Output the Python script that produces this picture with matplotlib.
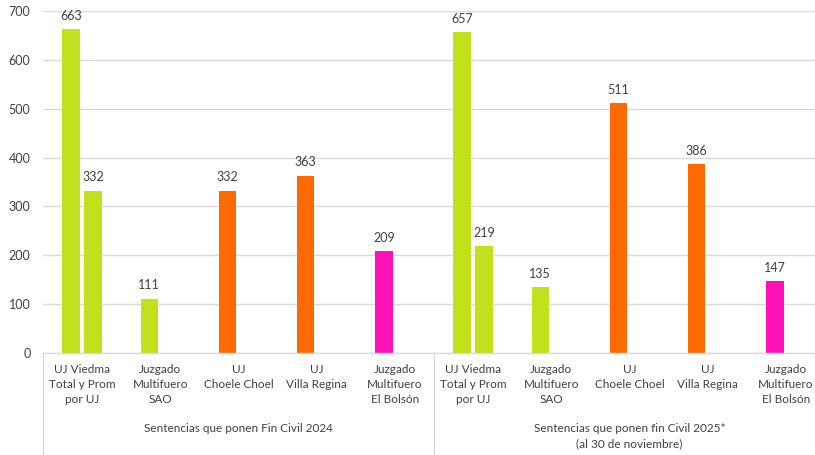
import matplotlib.pyplot as plt
import numpy as np

# data
categories = ['UJ Viedma\nTotal y Prom\npor UJ', 'Juzgado\nMultifuero\nSAO', 'UJ\nChoele Choel',
              'UJ\nVilla Regina', 'Juzgado\nMultifuero\nEl Bolsón']
groups = ['Sentencias que ponen Fin Civil 2024',
          'Sentencias que ponen fin Civil 2025*\n(al 30 de noviembre)']
totals_2024 = [663, 111, 332, 363, 209]
totals_2025 = [657, 135, 511, 386, 147]
prom_2024 = [332]
prom_2025 = [219]

green = '#C2E01B'
orange = '#FF6A00'
magenta = '#FF11B8'
bar_colors = [green, green, orange, orange, magenta]
text_color = '#404040'
grid_color = '#D9D9D9'


def main():
    plt.rcParams['font.family'] = ['Lato', 'DejaVu Sans']
    fig = plt.figure(figsize=(8.15, 4.55), dpi=100)
    # axes extends past the right edge, like the cropped original
    ax = fig.add_axes([43 / 815, 102 / 455, 782 / 815, 342 / 455])

    n = len(categories)
    totals = totals_2024 + totals_2025
    prom = [prom_2024[0], prom_2025[0]]
    x = np.arange(2 * n) + 0.5
    w = 17.5 / 78.2
    off = 11 / 78.2

    # series 1: every category
    b1 = ax.bar(x - off, totals, width=w, color=bar_colors * 2, zorder=3)
    # series 2: promedio, only first category of each group
    xp = np.array([x[0], x[n]])
    b2 = ax.bar(xp + off, prom, width=w, color=green, zorder=3)

    for bars in (b1, b2):
        for r in bars:
            ax.text(r.get_x() + r.get_width() / 2, r.get_height() + 15, f'{int(r.get_height())}',
                    ha='center', va='bottom', fontsize=9, color=text_color)

    ax.set_xlim(0, 2 * n)
    ax.set_ylim(0, 700)
    ax.set_yticks(np.arange(0, 701, 100))
    ax.yaxis.grid(True, color=grid_color, linewidth=1, zorder=0)
    ax.tick_params(axis='y', length=0, labelsize=9, labelcolor=text_color, pad=9)
    ax.set_xticks([])
    for s in ['top', 'right', 'left']:
        ax.spines[s].set_visible(False)
    ax.spines['bottom'].set_color(grid_color)
    ax.spines['bottom'].set_linewidth(1)
    ax.spines['bottom'].set_zorder(4)

    # category labels
    for i, xi in enumerate(x):
        ax.text(xi, -22, categories[i % n], ha='center', va='top', fontsize=8.5,
                color=text_color, linespacing=1.45)

    # group labels and separators
    for g in range(2):
        ax.text(g * n + n / 2, -143, groups[g], ha='center', va='top', fontsize=8.5,
                color=text_color, linespacing=1.45)
    for xs in [0, n, 2 * n]:
        ax.plot([xs, xs], [0, -215], color=grid_color, linewidth=1, clip_on=False, zorder=2)

    fig.savefig('out.png', dpi=100)


if __name__ == '__main__':
    main()
